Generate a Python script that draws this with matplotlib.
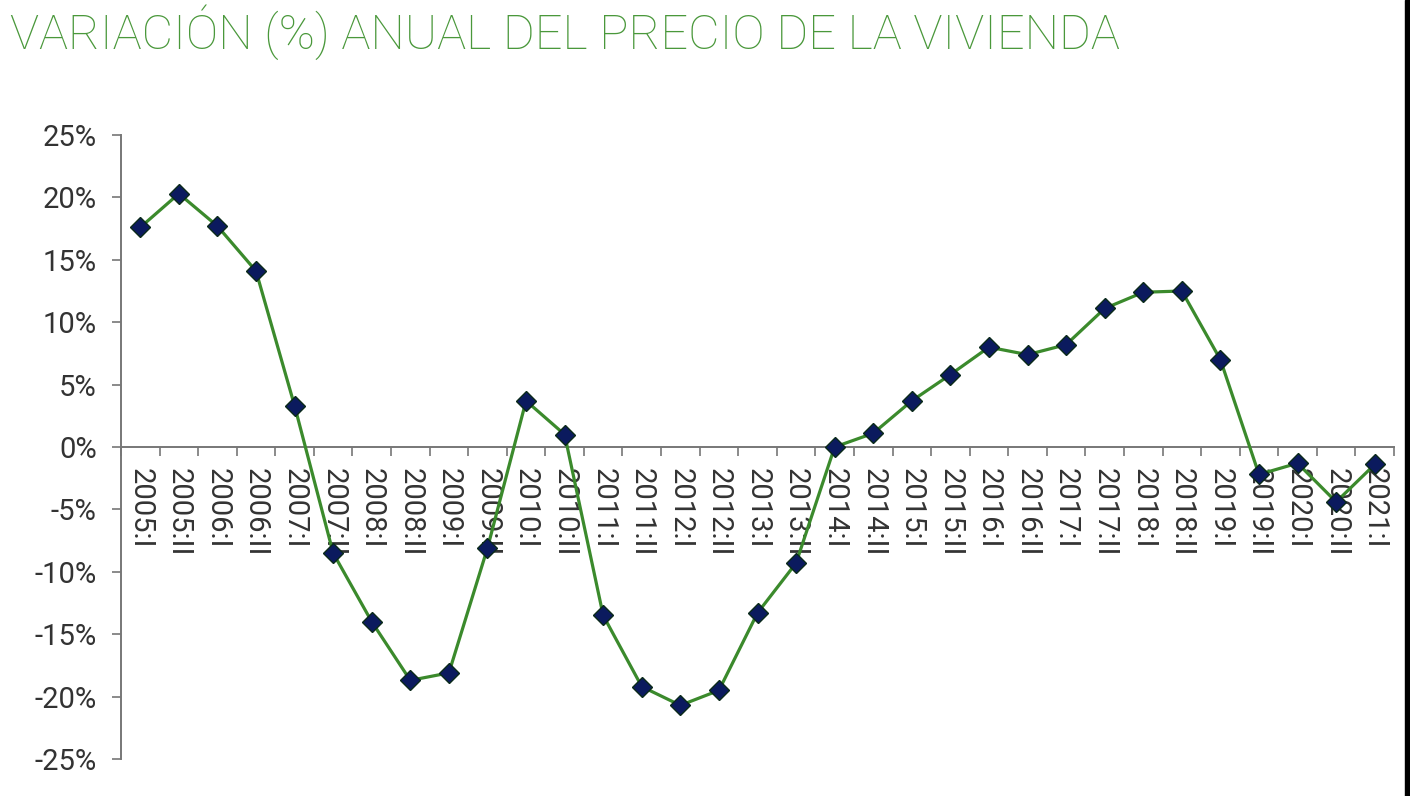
import matplotlib
matplotlib.use("Agg")
import matplotlib.pyplot as plt
from matplotlib.patches import Rectangle
from matplotlib.ticker import FixedLocator, FuncFormatter

# Data
periods = ["2005:I", "2005:II", "2006:I", "2006:II", "2007:I", "2007:II",
           "2008:I", "2008:II", "2009:I", "2009:II", "2010:I", "2010:II",
           "2011:I", "2011:II", "2012:I", "2012:II", "2013:I", "2013:II",
           "2014:I", "2014:II", "2015:I", "2015:II", "2016:I", "2016:II",
           "2017:I", "2017:II", "2018:I", "2018:II", "2019:I", "2019:II",
           "2020:I", "2020:II", "2021:I"]
variation = [17.6, 20.3, 17.7, 14.1, 3.3, -8.5,
             -14.0, -18.7, -18.1, -8.1, 3.7, 1.0,
             -13.5, -19.2, -20.7, -19.5, -13.3, -9.3,
             0.0, 1.1, 3.7, 5.8, 8.0, 7.4,
             8.2, 11.1, 12.4, 12.5, 7.0, -2.2,
             -1.3, -4.4, -1.4]
y_ticks = [-25, -20, -15, -10, -5, 0, 5, 10, 15, 20, 25]

TITLE = "VARIACIÓN (%) ANUAL DEL PRECIO DE LA VIVIENDA"
GREEN = "#4a983b"
LINE_GREEN = "#3b8a2c"
NAVY = "#0b1a5e"
TEXT = "#333333"
AXIS = "#777777"
FONT = ["Roboto", "DejaVu Sans"]

W, H = 1410, 796
fig = plt.figure(figsize=(W / 100, H / 100), dpi=100)
ax = fig.add_axes([121 / W, 1 - 759 / H, (1394 - 121) / W, (759 - 135) / H])

x = list(range(len(periods)))
ax.plot(x, variation, color=LINE_GREEN, lw=2.3, marker="D", markersize=10.5,
        markerfacecolor=NAVY, markeredgecolor="#0a2a1a", markeredgewidth=1.0,
        zorder=3)

ax.set_xlim(-0.5, len(periods) - 0.5)
ax.set_ylim(-25, 25)

for s in ["top", "right"]:
    ax.spines[s].set_visible(False)
ax.spines["bottom"].set_position(("data", 0))
for s in ["bottom", "left"]:
    ax.spines[s].set_color(AXIS)
    ax.spines[s].set_linewidth(1.4)

ax.set_yticks(y_ticks)
ax.yaxis.set_major_formatter(FuncFormatter(lambda v, p: f"{v:.0f}%".replace("\u2212", "-")))
ax.tick_params(axis="y", length=6.5, width=1.2, color=AXIS, pad=11,
               labelsize=21, labelcolor=TEXT)

ax.set_xticks(x)
ax.set_xticklabels(periods, rotation=-90, fontsize=21, color=TEXT,
                   va="top", ha="center")
ax.xaxis.set_minor_locator(FixedLocator([i - 0.5 for i in range(len(periods) + 1)]))
ax.tick_params(axis="x", which="major", length=0, pad=15)
ax.tick_params(axis="x", which="minor", length=6.5, width=1.2, color=AXIS)

for lab in ax.get_xticklabels() + ax.get_yticklabels():
    lab.set_family(FONT)

fig.text(10 / W, 1 - 49 / H, TITLE, color=GREEN, fontsize=35,
         family=FONT, fontweight="light", ha="left", va="baseline")

# dark border on the right edge
fig.patches.append(Rectangle((1405 / W, 0), 5 / W, 1, transform=fig.transFigure,
                             color="black", zorder=10))

fig.savefig("out.png", dpi=100)
